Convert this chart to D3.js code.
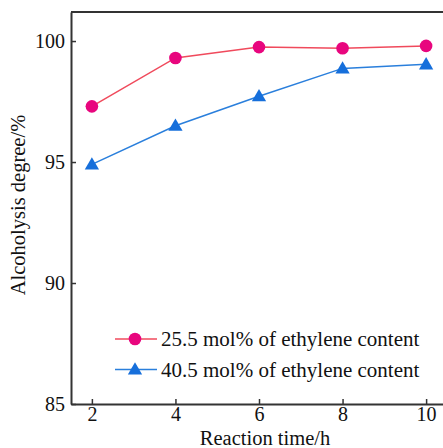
<!DOCTYPE html>
<html>
<head>
<meta charset="utf-8">
<script src="https://cdn.jsdelivr.net/npm/d3@7"></script>
<style>
  body { margin: 0; background: #fff; }
  svg text { font-family: "Liberation Serif", "Times New Roman", serif; fill: #111; }
</style>
</head>
<body>
<div id="chart"></div>
<script>
// reaction time (h) and alcoholysis degree (%)
const times = [2, 4, 6, 8, 10]
const ethylene255 = [97.3, 99.3, 99.75, 99.7, 99.8]
const ethylene405 = [94.9, 96.5, 97.72, 98.87, 99.04]
const seriesNames = ["25.5 mol% of ethylene content", "40.5 mol% of ethylene content"]
const xTicks = [2, 4, 6, 8, 10]
const yTicks = [85, 90, 95, 100]

function renderChart(frame_id) {
    let width = 443
    let height = 448
    let margin = { top: 12, right: -4, bottom: 44, left: 71 }

    var svg = d3.select("#" + frame_id)
        .append("svg")
        .attr("width", width)
        .attr("height", height)

    var x = d3.scaleLinear().domain([1.5, 10.5]).range([margin.left, width - margin.right])
    var y = d3.scaleLinear().domain([85, 101.2]).range([height - margin.bottom, margin.top])

    var axisColor = "#333"

    // x axis, ticks pointing up into the plot
    var xAxis = svg.append("g")
        .attr("transform", "translate(0," + (height - margin.bottom) + ")")
        .call(d3.axisBottom(x).tickValues(xTicks).tickSizeInner(-5).tickSizeOuter(0).tickPadding(3))
    xAxis.select(".domain").attr("stroke", axisColor).attr("stroke-width", 2)
    xAxis.selectAll(".tick line").attr("stroke", axisColor).attr("stroke-width", 1.5)
    xAxis.selectAll("text").style("font-size", "20px").attr("fill", "#111")

    var yAxis = svg.append("g")
        .attr("transform", "translate(" + margin.left + ",0)")
        .call(d3.axisLeft(y).tickValues(yTicks).tickSizeInner(-5).tickSizeOuter(0).tickPadding(6))
    yAxis.select(".domain").attr("stroke", axisColor).attr("stroke-width", 2)
    yAxis.selectAll(".tick line").attr("stroke", axisColor).attr("stroke-width", 1.5)
    yAxis.selectAll("text").style("font-size", "20px").attr("fill", "#111")

    // top frame line
    svg.append("line")
        .attr("x1", margin.left).attr("x2", width)
        .attr("y1", margin.top).attr("y2", margin.top)
        .attr("stroke", axisColor).attr("stroke-width", 2)

    // axis titles
    svg.append("text")
        .attr("x", 265).attr("y", 445)
        .style("text-anchor", "middle")
        .style("font-size", "20.5px")
        .text("Reaction time/h")

    svg.append("text")
        .attr("transform", "translate(25,205) rotate(-90)")
        .style("text-anchor", "middle")
        .style("font-size", "20.5px")
        .text("Alcoholysis degree/%")

    var line = d3.line().x(function (d) { return x(d[0]) }).y(function (d) { return y(d[1]) })
    var triangle = d3.symbol().type(d3.symbolTriangle).size(88)

    var redData = times.map(function (t, i) { return [t, ethylene255[i]] })
    var blueData = times.map(function (t, i) { return [t, ethylene405[i]] })

    svg.append("path").datum(redData)
        .attr("d", line).attr("fill", "none")
        .attr("stroke", "#f04a5c").attr("stroke-width", 1.5)
    svg.append("path").datum(blueData)
        .attr("d", line).attr("fill", "none")
        .attr("stroke", "#2a7fdc").attr("stroke-width", 1.5)

    svg.selectAll("circle.pt")
        .data(redData)
        .enter()
        .append("circle")
        .attr("class", "pt")
        .attr("cx", function (d) { return x(d[0]) })
        .attr("cy", function (d) { return y(d[1]) })
        .attr("r", 6.3)
        .attr("fill", "#e8067e")

    svg.selectAll("path.tri")
        .data(blueData)
        .enter()
        .append("path")
        .attr("class", "tri")
        .attr("d", triangle)
        .attr("transform", function (d) { return "translate(" + x(d[0]) + "," + (y(d[1]) + 1) + ")" })
        .attr("fill", "#166fdb")

    // legend
    var legend = svg.append("g")
    var rows = [
        { name: seriesNames[0], line: "#f04a5c", fill: "#e8067e", shape: "circle", yy: 339 },
        { name: seriesNames[1], line: "#2a7fdc", fill: "#166fdb", shape: "tri", yy: 369.5 }
    ]
    rows.forEach(function (r) {
        legend.append("line")
            .attr("x1", 115).attr("x2", 157)
            .attr("y1", r.yy).attr("y2", r.yy)
            .attr("stroke", r.line).attr("stroke-width", 1.5)
        if (r.shape === "circle") {
            legend.append("circle").attr("cx", 135).attr("cy", r.yy).attr("r", 6.3).attr("fill", r.fill)
        } else {
            legend.append("path").attr("d", triangle)
                .attr("transform", "translate(135," + (r.yy + 1) + ")").attr("fill", r.fill)
        }
        legend.append("text")
            .attr("x", 161).attr("y", r.yy + 7)
            .style("font-size", "21px")
            .text(r.name)
    })
}

document.addEventListener('DOMContentLoaded', function () { renderChart("chart") }, false);
</script>
</body>
</html>
